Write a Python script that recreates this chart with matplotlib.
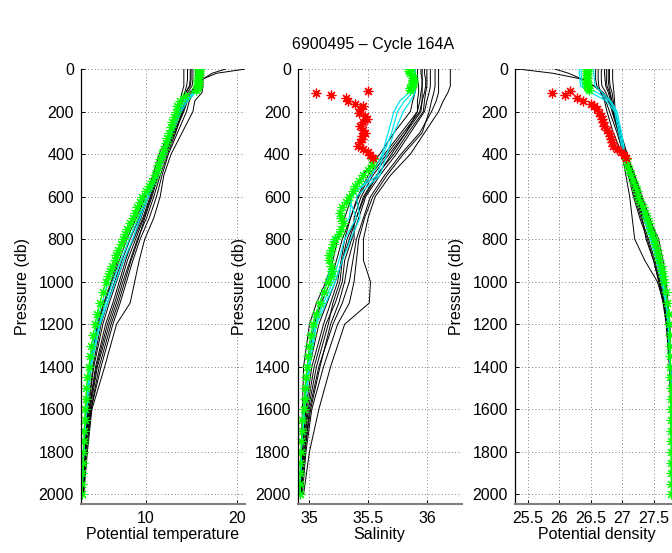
import numpy as np
import matplotlib
matplotlib.use('Agg')
import matplotlib.pyplot as plt

plt.rcParams['font.family'] = ['Liberation Sans', 'DejaVu Sans']
plt.rcParams['font.size'] = 11

# reference (climatology) profiles share these pressure levels
p_ref = [0, 20, 50, 80, 110, 150, 200, 300, 400, 500, 600, 700, 800, 900,
         1000, 1100, 1200, 1400, 1600, 1800, 2000]

black_temp = [
    [21.0, 17.8, 16.1, 15.9, 15.2, 14.6, 14.2, 13.2, 12.2, 11.3, 10.3, 9.3, 8.3, 7.4, 6.6, 5.8, 5.1, 4.2, 3.7, 3.3, 3.05],
    [18.8, 17.3, 16.2, 15.6, 14.8, 14.4, 13.9, 12.9, 11.8, 10.9, 10.0, 9.0, 7.9, 7.1, 6.3, 5.5, 4.8, 4.0, 3.5, 3.25, 3.0],
    [16.3, 16.3, 16.3, 16.3, 16.2, 15.4, 15.2, 14.0, 12.8, 12.0, 11.6, 10.9, 9.9, 9.3, 8.8, 8.3, 6.8, 5.5, 4.1, 3.6, 3.2],
    [15.2, 15.2, 15.2, 15.1, 14.6, 14.3, 14.0, 13.3, 12.4, 11.6, 10.9, 10.1, 9.1, 8.3, 7.5, 6.8, 6.0, 4.7, 3.9, 3.4, 3.1],
    [15.0, 15.0, 15.0, 14.9, 14.4, 14.0, 13.7, 12.8, 11.9, 11.0, 10.3, 9.5, 8.6, 7.8, 7.1, 6.4, 5.6, 4.5, 3.8, 3.35, 3.05],
    [14.6, 14.6, 14.6, 14.5, 14.3, 14.0, 13.8, 13.0, 12.0, 11.2, 10.5, 9.7, 8.7, 7.6, 6.8, 6.0, 5.3, 4.3, 3.7, 3.3, 3.05],
    [14.2, 14.2, 14.2, 14.2, 14.0, 13.8, 13.6, 12.6, 11.5, 10.8, 9.9, 8.8, 7.6, 6.9, 6.2, 5.4, 4.7, 3.9, 3.5, 3.2, 3.0],
    [15.8, 15.8, 15.8, 15.7, 15.3, 14.8, 14.5, 13.5, 12.5, 11.8, 11.2, 10.4, 9.4, 8.6, 7.9, 7.2, 6.4, 5.1, 4.0, 3.5, 3.15],
    [15.5, 15.5, 15.5, 15.5, 15.0, 14.5, 14.1, 13.1, 12.1, 11.3, 10.6, 9.8, 8.9, 8.0, 7.3, 6.6, 5.8, 4.6, 3.8, 3.4, 3.1],
    [14.9, 14.9, 14.9, 14.8, 14.4, 14.1, 13.8, 12.9, 12.0, 11.4, 10.7, 9.9, 9.2, 8.4, 7.7, 7.0, 6.2, 4.9, 4.0, 3.45, 3.1],
]
black_sal = [
    [35.95, 35.95, 35.96, 35.96, 35.95, 35.94, 35.92, 35.82, 35.70, 35.58, 35.47, 35.40, 35.34, 35.28, 35.22, 35.15, 35.08, 35.00, 34.96, 34.94, 34.93],
    [35.98, 35.98, 35.99, 35.99, 35.98, 35.96, 35.94, 35.80, 35.66, 35.52, 35.42, 35.35, 35.28, 35.23, 35.18, 35.10, 35.04, 34.98, 34.95, 34.93, 34.92],
    [36.20, 36.20, 36.20, 36.20, 36.18, 36.14, 36.10, 35.98, 35.86, 35.69, 35.56, 35.50, 35.46, 35.46, 35.52, 35.51, 35.30, 35.18, 35.08, 35.00, 34.95],
    [36.10, 36.10, 36.10, 36.10, 36.10, 36.08, 36.04, 35.94, 35.78, 35.64, 35.52, 35.46, 35.40, 35.37, 35.34, 35.28, 35.20, 35.08, 35.00, 34.96, 34.93],
    [36.03, 36.03, 36.03, 36.03, 36.02, 36.00, 35.98, 35.86, 35.74, 35.60, 35.48, 35.42, 35.36, 35.30, 35.28, 35.22, 35.14, 35.04, 34.98, 34.95, 34.93],
    [35.92, 35.92, 35.92, 35.93, 35.93, 35.92, 35.92, 35.78, 35.64, 35.50, 35.41, 35.35, 35.30, 35.27, 35.24, 35.18, 35.12, 35.02, 34.97, 34.94, 34.93],
    [35.90, 35.90, 35.91, 35.91, 35.90, 35.88, 35.86, 35.72, 35.60, 35.45, 35.36, 35.30, 35.24, 35.20, 35.14, 35.06, 35.00, 34.95, 34.94, 34.93, 34.92],
    [36.07, 36.07, 36.07, 36.07, 36.06, 36.04, 36.02, 35.96, 35.80, 35.66, 35.54, 35.47, 35.42, 35.40, 35.38, 35.34, 35.24, 35.12, 35.02, 34.97, 34.94],
    [36.00, 36.00, 36.00, 36.00, 35.99, 35.98, 35.97, 35.84, 35.72, 35.57, 35.46, 35.40, 35.32, 35.28, 35.26, 35.20, 35.16, 35.06, 34.99, 34.95, 34.93],
    [35.96, 35.96, 35.96, 35.96, 35.96, 35.96, 35.95, 35.82, 35.68, 35.54, 35.44, 35.38, 35.38, 35.33, 35.30, 35.25, 35.18, 35.09, 35.01, 34.96, 34.93],
]
black_dens = [
    [25.35, 25.90, 26.40, 26.55, 26.68, 26.78, 26.85, 26.96, 27.06, 27.18, 27.30, 27.41, 27.51, 27.59, 27.65, 27.70, 27.74, 27.77, 27.78, 27.79, 27.80],
    [25.93, 26.15, 26.38, 26.56, 26.70, 26.80, 26.87, 26.98, 27.08, 27.20, 27.32, 27.44, 27.55, 27.62, 27.67, 27.71, 27.75, 27.77, 27.78, 27.79, 27.80],
    [26.62, 26.62, 26.62, 26.63, 26.66, 26.72, 26.76, 26.86, 27.00, 27.06, 27.12, 27.16, 27.20, 27.36, 27.56, 27.66, 27.72, 27.76, 27.78, 27.79, 27.80],
    [26.80, 26.80, 26.80, 26.81, 26.84, 26.86, 26.88, 26.96, 27.03, 27.12, 27.20, 27.30, 27.42, 27.52, 27.60, 27.67, 27.72, 27.76, 27.78, 27.79, 27.80],
    [26.85, 26.85, 26.85, 26.86, 26.87, 26.88, 26.89, 26.98, 27.05, 27.15, 27.24, 27.35, 27.47, 27.57, 27.63, 27.69, 27.73, 27.76, 27.78, 27.79, 27.80],
    [26.72, 26.72, 26.73, 26.74, 26.78, 26.82, 26.86, 26.95, 27.04, 27.14, 27.25, 27.37, 27.50, 27.60, 27.67, 27.71, 27.75, 27.77, 27.78, 27.79, 27.80],
    [26.78, 26.78, 26.78, 26.79, 26.81, 26.84, 26.87, 26.97, 27.07, 27.18, 27.30, 27.43, 27.58, 27.65, 27.70, 27.73, 27.76, 27.77, 27.78, 27.79, 27.80],
    [26.58, 26.58, 26.58, 26.60, 26.66, 26.74, 26.80, 26.92, 27.02, 27.10, 27.18, 27.28, 27.40, 27.50, 27.58, 27.65, 27.70, 27.75, 27.77, 27.79, 27.80],
    [26.67, 26.67, 26.67, 26.68, 26.74, 26.80, 26.84, 26.94, 27.03, 27.13, 27.23, 27.34, 27.46, 27.55, 27.62, 27.68, 27.72, 27.76, 27.78, 27.79, 27.80],
    [26.75, 26.75, 26.75, 26.76, 26.80, 26.83, 26.86, 26.95, 27.04, 27.13, 27.22, 27.32, 27.38, 27.50, 27.59, 27.66, 27.71, 27.76, 27.78, 27.79, 27.80],
]

cyan_temp = [
    [15.9, 15.9, 15.9, 15.8, 15.3, 14.2, 13.5, 12.7, 11.9, 11.1, 9.8, 8.8, 7.7, 6.8, 5.9, 5.2, 4.6, 3.8, 3.4, 3.2, 3.0],
    [15.9, 15.9, 15.85, 15.8, 15.4, 14.4, 13.7, 12.8, 12.0, 11.2, 10.1, 9.2, 8.2, 7.3, 6.4, 5.6, 4.9, 3.9, 3.45, 3.2, 3.0],
    [15.8, 15.8, 15.8, 15.7, 15.5, 14.6, 13.9, 12.9, 12.1, 11.3, 10.3, 9.4, 8.6, 7.6, 6.7, 5.8, 5.0, 4.0, 3.5, 3.2, 3.0],
]
cyan_sal = [
    [35.86, 35.86, 35.87, 35.87, 35.85, 35.77, 35.72, 35.67, 35.62, 35.53, 35.36, 35.34, 35.20, 35.19, 35.15, 35.09, 35.03, 34.98, 34.95, 34.93, 34.92],
    [35.88, 35.88, 35.89, 35.89, 35.88, 35.81, 35.75, 35.70, 35.63, 35.58, 35.33, 35.40, 35.30, 35.25, 35.20, 35.12, 35.05, 34.99, 34.95, 34.93, 34.92],
    [35.90, 35.90, 35.90, 35.90, 35.90, 35.86, 35.80, 35.72, 35.66, 35.60, 35.40, 35.43, 35.35, 35.28, 35.22, 35.14, 35.06, 35.00, 34.96, 34.93, 34.92],
]
cyan_dens = [
    [26.32, 26.32, 26.33, 26.34, 26.50, 26.75, 26.88, 26.95, 27.02, 27.12, 27.26, 27.36, 27.46, 27.56, 27.64, 27.70, 27.74, 27.77, 27.78, 27.79, 27.80],
    [26.35, 26.35, 26.36, 26.37, 26.60, 26.80, 26.90, 26.97, 27.04, 27.14, 27.27, 27.35, 27.45, 27.55, 27.63, 27.69, 27.73, 27.76, 27.78, 27.79, 27.80],
    [26.55, 26.55, 26.56, 26.57, 26.68, 26.82, 26.92, 26.99, 27.05, 27.15, 27.28, 27.37, 27.48, 27.58, 27.65, 27.71, 27.75, 27.77, 27.78, 27.79, 27.80],
]

# current cycle 164A
p_cyc = ([0, 10, 20, 30, 40, 50, 60, 70, 80, 90, 100]
         + list(range(125, 1001, 25)) + list(range(1050, 2001, 50)))
temp_cyc = [15.9, 15.9, 15.85, 15.85, 15.8, 15.8, 15.8, 15.8, 15.75, 15.7, 15.5,
            14.3, 13.8, 13.5, 13.3, 13.1, 12.9, 12.75, 12.6, 12.4, 12.2, 12.0, 11.8,
            11.6, 11.4, 11.2, 11.0, 10.7, 10.4, 10.0, 9.6, 9.35, 9.1, 8.85, 8.6,
            8.3, 8.0, 7.75, 7.5, 7.25, 7.0, 6.8, 6.6, 6.35, 6.1, 5.9, 5.7,
            5.3, 5.0, 4.7, 4.45, 4.25, 4.05, 3.9, 3.75, 3.6, 3.5,
            3.42, 3.35, 3.3, 3.25, 3.2, 3.15, 3.1, 3.05, 3.0, 2.98]
nan = np.nan
sal_cyc = [35.85, 35.85, 35.86, 35.87, 35.88, 35.88, 35.88, 35.87, 35.87, 35.86, 35.86,
           nan, nan, nan, nan, nan, nan, nan, nan, nan, nan, nan, nan,
           35.54, 35.53, 35.50, 35.46, 35.42, 35.39, 35.37, 35.34, 35.31, 35.28, 35.26, 35.27,
           35.29, 35.27, 35.25, 35.22, 35.20, 35.18, 35.17, 35.17, 35.18, 35.19, 35.18, 35.16,
           35.12, 35.09, 35.06, 35.03, 35.01, 35.00, 34.99, 34.98, 34.97, 34.96,
           34.96, 34.95, 34.94, 34.94, 34.93, 34.93, 34.92, 34.92, 34.92, 34.92]
dens_cyc = [26.44, 26.44, 26.44, 26.45, 26.44, 26.43, 26.44, 26.45, 26.45, 26.46, 26.47,
            nan, nan, nan, nan, nan, nan, nan, nan, nan, nan, nan, nan,
            27.06, 27.08, 27.11, 27.14, 27.17, 27.20, 27.23, 27.26, 27.29, 27.33, 27.36, 27.40,
            27.43, 27.45, 27.48, 27.51, 27.53, 27.55, 27.57, 27.59, 27.61, 27.63, 27.65, 27.67,
            27.70, 27.72, 27.74, 27.75, 27.755, 27.76, 27.76, 27.765, 27.765, 27.77,
            27.77, 27.77, 27.77, 27.77, 27.775, 27.775, 27.775, 27.775, 27.78, 27.78]

# flagged (bad) salinity points and the densities computed with them
p_bad = [102, 113, 123, 137, 152, 165, 175, 190, 205, 220, 235, 250, 270, 285,
         300, 315, 330, 345, 360, 375, 390, 405, 420]
sal_bad = [35.50, 35.06, 35.18, 35.31, 35.33, 35.39, 35.46, 35.43, 35.42, 35.47, 35.49, 35.46,
           35.43, 35.46, 35.47, 35.45, 35.45, 35.43, 35.41, 35.46, 35.50, 35.52, 35.54]
dens_bad = [26.17, 25.89, 26.09, 26.28, 26.38, 26.50, 26.56, 26.60, 26.63, 26.66, 26.68, 26.70,
            26.72, 26.76, 26.79, 26.81, 26.82, 26.84, 26.86, 26.92, 26.98, 27.03, 27.06]

fig = plt.figure(figsize=(6.72, 5.53), dpi=100)
W, H = 672.0, 553.0
lefts = [81, 297.7, 515]
axes = [fig.add_axes([l / W, 49 / H, 164 / W, 435 / H]) for l in lefts]

star = (8, 2, 0)
panels = [
    (black_temp, cyan_temp, temp_cyc, None, (2.9, 20.92), [10, 20], 'Potential temperature'),
    (black_sal, cyan_sal, sal_cyc, sal_bad, (34.90, 36.297), [35, 35.5, 36], 'Salinity'),
    (black_dens, cyan_dens, dens_cyc, dens_bad, (25.30, 27.903), [25.5, 26, 26.5, 27, 27.5], 'Potential density'),
]

for ax, (blk, cyn, cyc, bad, xlim, xticks, xlabel) in zip(axes, panels):
    for prof in blk:
        ax.plot(prof, p_ref, color='black', lw=0.7)
    for prof in cyn:
        ax.plot(prof, p_ref, color='#00e5ee', lw=0.9)
    ax.plot(cyc, p_cyc, color='#00ff00', lw=0.8, marker=star, ms=7, mew=0.8)
    if bad is not None:
        ax.plot(bad, p_bad, ls='none', color='red', marker=star, ms=7, mew=0.9)

    ax.set_xlim(xlim)
    ax.set_ylim(2045, 0)
    ax.set_xticks(xticks)
    ax.set_xticklabels([('%g' % t) for t in xticks])
    ax.set_yticks(range(0, 2001, 200))
    ax.grid(True, linestyle=(0, (1, 3)), color='#555555', linewidth=0.6)
    for s in ['top', 'right']:
        ax.spines[s].set_visible(False)
    ax.spines['bottom'].set_color('#808080')
    ax.spines['bottom'].set_linewidth(1.5)
    ax.spines['left'].set_linewidth(0.9)
    ax.tick_params(direction='in', length=3, width=0.7, labelsize=11.5, pad=5)
    ax.set_xlabel(xlabel, fontsize=11.5, labelpad=1)
    ax.set_ylabel('Pressure (db)', fontsize=11.5, labelpad=6)

fig.text(373 / W, 1 - 45 / H, '6900495 \u2013 Cycle 164A', ha='center', va='center', fontsize=11.5)

fig.savefig('out.png', dpi=100)
